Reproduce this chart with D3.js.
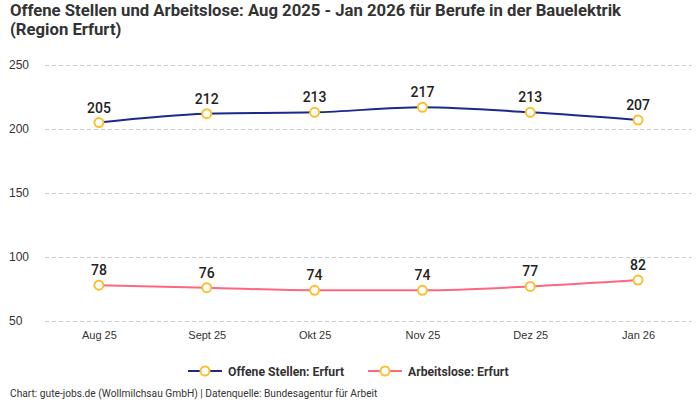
<!DOCTYPE html>
<html>
<head>
<meta charset="utf-8">
<script src="https://cdn.jsdelivr.net/npm/d3@7"></script>
<style>
  body { margin: 0; background: #fff; }
  svg { font-family: "Roboto", "Noto Sans", sans-serif; }
</style>
</head>
<body>
<div id="chart"></div>
<script>
// data
var months = ['Aug 25', 'Sept 25', 'Okt 25', 'Nov 25', 'Dez 25', 'Jan 26'];
var offeneStellen = [205, 212, 213, 217, 213, 207];
var arbeitslose = [78, 76, 74, 74, 77, 82];
var yTicks = [50, 100, 150, 200, 250];
var seriesNames = ['Offene Stellen: Erfurt', 'Arbeitslose: Erfurt'];
var seriesColors = ['#1b2a8a', '#ff6680'];

var W = 700, H = 400;
var svg = d3.select('#chart').append('svg').attr('width', W).attr('height', H);

var x = d3.scalePoint().domain(months).range([45, 692]).padding(0.5);
var y = d3.scaleLinear().domain([50, 250]).range([321, 65]);

// title
var title = svg.append('text')
	.attr('x', 10).attr('y', 16)
	.attr('font-size', 16.7).attr('font-weight', 'bold').attr('fill', '#333');
title.append('tspan').attr('x', 10).attr('dy', 0)
	.text('Offene Stellen und Arbeitslose: Aug 2025 - Jan 2026 für Berufe in der Bauelektrik');
title.append('tspan').attr('x', 10).attr('dy', 19).text('(Region Erfurt)');

// y axis with dashed grid
var yAxis = svg.append('g')
	.attr('transform', 'translate(45,0)')
	.call(d3.axisLeft(y).tickValues(yTicks).tickSize(-647).tickPadding(16));
yAxis.select('.domain').remove();
yAxis.selectAll('.tick line').attr('stroke', '#ccc').attr('stroke-dasharray', '4,3');
yAxis.selectAll('.tick text').attr('font-size', 12).attr('fill', '#333').attr('text-anchor', 'start').attr('x', -36);

// x axis
var xAxis = svg.append('g')
	.attr('transform', 'translate(0,321)')
	.call(d3.axisBottom(x).tickSize(0).tickPadding(10));
xAxis.select('.domain').remove();
xAxis.selectAll('.tick text').attr('font-size', 11).attr('fill', '#333');

var line = d3.line()
	.x(function(d, i) { return x(months[i]); })
	.y(function(d) { return y(d); })
	.curve(d3.curveMonotoneX);

[offeneStellen, arbeitslose].forEach(function(vals, s) {
	var g = svg.append('g');
	g.append('path').datum(vals)
		.attr('d', line)
		.attr('fill', 'none')
		.attr('stroke', seriesColors[s])
		.attr('stroke-width', 2);
	g.selectAll('circle').data(vals).enter().append('circle')
		.attr('cx', function(d, i) { return x(months[i]); })
		.attr('cy', function(d) { return y(d); })
		.attr('r', 4.5)
		.attr('fill', '#fff')
		.attr('stroke', '#fbc02d')
		.attr('stroke-width', 2);
	g.selectAll('.lbl').data(vals).enter().append('text')
		.attr('class', 'lbl')
		.attr('x', function(d, i) { return x(months[i]); })
		.attr('y', function(d) { return y(d) - 10; })
		.attr('text-anchor', 'middle')
		.attr('font-size', 14).attr('font-weight', 500).attr('fill', '#222')
		.text(function(d) { return d; });
});

// legend
var legend = svg.append('g').attr('transform', 'translate(0,371)');
var lx = [188, 368];
seriesNames.forEach(function(name, s) {
	var g = legend.append('g').attr('transform', 'translate(' + lx[s] + ',0)');
	g.append('line').attr('x1', 0).attr('x2', 34).attr('y1', 0).attr('y2', 0)
		.attr('stroke', seriesColors[s]).attr('stroke-width', 2);
	g.append('circle').attr('cx', 17).attr('cy', 0).attr('r', 4.5)
		.attr('fill', '#fff').attr('stroke', '#fbc02d').attr('stroke-width', 2);
	g.append('text').attr('x', 40).attr('y', 4.5)
		.attr('font-size', 12.2).attr('font-weight', 'bold').attr('fill', '#333')
		.text(name);
});

// footer
svg.append('text').attr('x', 10).attr('y', 397)
	.attr('font-size', 10.2).attr('fill', '#333')
	.text('Chart: gute-jobs.de (Wollmilchsau GmbH) | Datenquelle: Bundesagentur für Arbeit');
</script>
</body>
</html>
